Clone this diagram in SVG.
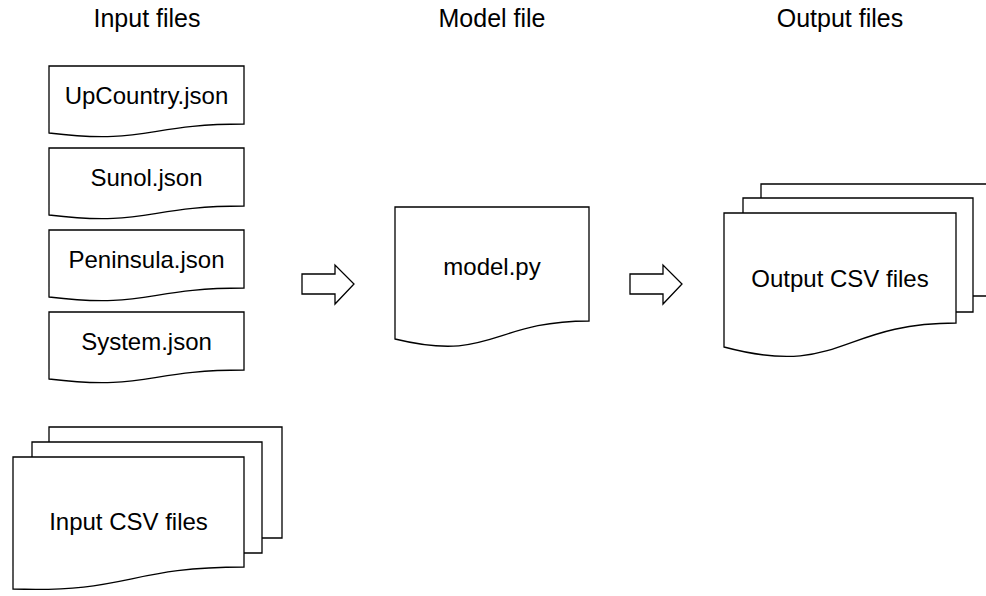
<svg xmlns="http://www.w3.org/2000/svg" width="986" height="596" viewBox="0 0 986 596">
<style>
.doc{fill:#fff;stroke:#000;stroke-width:1.3;stroke-linejoin:miter}
.edge{fill:none;stroke:#000;stroke-width:1.3}
.arrow{fill:#fff;stroke:#000;stroke-width:1.3;stroke-linejoin:miter}
.head{font-family:"Liberation Sans",Arial,sans-serif;font-size:25px;fill:#000;text-anchor:middle}
.lbl{font-family:"Liberation Sans",Arial,sans-serif;font-size:24px;fill:#000;text-anchor:middle}
</style>
<rect width="986" height="596" fill="#fff"/>
<g id="headings">
<text class="head" x="147" y="27">Input files</text>
<text class="head" x="492" y="27">Model file</text>
<text class="head" x="840" y="27">Output files</text>
</g>
<g id="upcountry">
<path class="doc" d="M49,66 H244 V124 C146.5,124 146.5,144.8 49,133 Z"/>
<text class="lbl" x="146.5" y="104">UpCountry.json</text>
</g>
<g id="sunol">
<path class="doc" d="M49,148 H244 V206 C146.5,206 146.5,226.8 49,215 Z"/>
<text class="lbl" x="146.5" y="186">Sunol.json</text>
</g>
<g id="peninsula">
<path class="doc" d="M49,230 H244 V288 C146.5,288 146.5,308.8 49,297 Z"/>
<text class="lbl" x="146.5" y="268">Peninsula.json</text>
</g>
<g id="system">
<path class="doc" d="M49,312 H244 V370 C146.5,370 146.5,390.8 49,379 Z"/>
<text class="lbl" x="146.5" y="350">System.json</text>
</g>
<g id="input-csv">
<path class="edge" d="M49,442 V427 H282 V538 H262"/>
<path class="edge" d="M32,457 V442 H262 V553 H244"/>
<path class="doc" d="M13,457 H244 V567 C128.5,567 128.5,593 13,589 Z"/>
<text class="lbl" x="128.5" y="530">Input CSV files</text>
</g>
<g id="model">
<path class="doc" d="M395,207 H589 V321 C492,321 492,362.7 395,339 Z"/>
<text class="lbl" x="492" y="275">model.py</text>
</g>
<g id="output-csv">
<path class="edge" d="M761,198 V184 H992 V296 H973"/>
<path class="edge" d="M743,213 V198 H973 V312 H956"/>
<path class="doc" d="M724,213 H956 V323 C840,323 840,378 724,347 Z"/>
<text class="lbl" x="840" y="287">Output CSV files</text>
</g>
<g id="connectors">
<polygon class="arrow" points="302,274 335,274 335,265 354,284 335,304 335,294 302,294"/>
<polygon class="arrow" points="630,274 663,274 663,265 682,284 663,304 663,294 630,294"/>
</g>
</svg>
